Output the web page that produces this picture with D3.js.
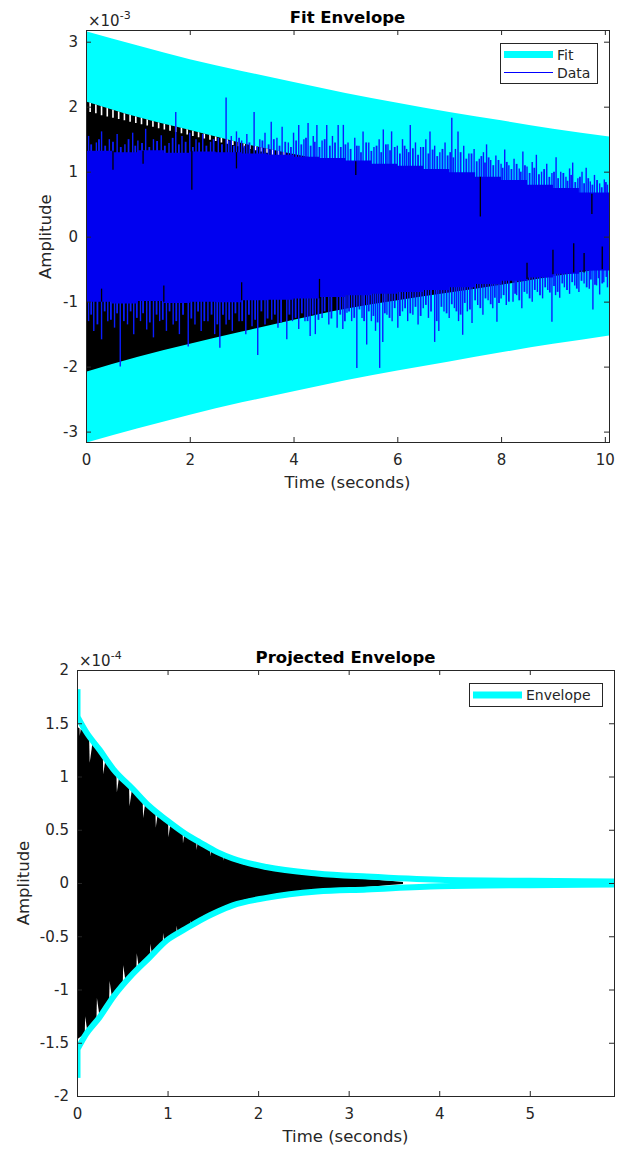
<!DOCTYPE html>
<html>
<head>
<meta charset="utf-8">
<script src="https://cdn.jsdelivr.net/npm/d3@7"></script>
<style>
  body { margin: 0; background: #fff; }
  svg { display: block; }
</style>
</head>
<body>
<svg id="chart" width="618" height="1149"></svg>
<script>
// ---------- Fit Envelope (amplitudes x 1e-3) ----------
const fitTime = [0, 1, 2, 3, 4, 5, 6, 7, 8, 9, 10.08]
const fitUpper = [3.16, 2.94, 2.73, 2.55, 2.38, 2.21, 2.06, 1.92, 1.79, 1.66, 1.54]
const fitLower = [-3.17, -2.95, -2.74, -2.55, -2.38, -2.21, -2.06, -1.92, -1.78, -1.65, -1.52]

// black signal envelope
const sigUpper = [2.08, 1.84, 1.64, 1.44, 1.27, 1.12, 0.99, 0.87, 0.75, 0.62, 0.49]
const sigLower = [-2.08, -1.85, -1.65, -1.46, -1.28, -1.11, -0.98, -0.86, -0.74, -0.61, -0.48]

// dense core of the blue data trace
const dataTime = [0, 0.5, 1, 1.5, 2, 2.5, 3, 3.5, 4, 4.5, 5, 5.5, 6, 6.5, 7, 7.5, 8, 8.5, 9, 9.5, 10.08]
const dataUpper = [1.32, 1.3, 1.33, 1.29, 1.31, 1.3, 1.28, 1.26, 1.23, 1.21, 1.17, 1.12, 1.09, 1.04, 0.99, 0.92, 0.87, 0.8, 0.75, 0.68, 0.62]
const dataLower = [-1.0, -1.03, -0.99, -1.02, -1.0, -1.01, -0.98, -0.97, -0.95, -0.93, -0.9, -0.88, -0.85, -0.82, -0.78, -0.73, -0.68, -0.63, -0.57, -0.52, -0.46]

// [time, peak] of the tall blue data spikes
const dataPeaksUp = [
  [0.05, 1.55], [0.2, 1.45], [0.3, 1.62], [0.45, 1.5], [0.6, 1.58], [0.75, 1.42], [0.9, 1.6], [1.0, 1.48],
  [1.15, 1.66], [1.3, 1.5], [1.45, 1.56], [1.6, 1.44], [1.73, 1.92], [1.85, 1.55], [2.0, 1.6], [2.12, 1.5],
  [2.25, 1.58], [2.4, 1.46], [2.55, 1.52], [2.7, 2.14], [2.8, 1.55], [2.9, 1.62], [3.0, 1.48], [3.1, 1.58],
  [3.24, 1.92], [3.35, 1.5], [3.45, 1.6], [3.57, 1.77], [3.68, 1.52], [3.78, 1.69], [3.9, 1.45], [4.0, 1.6],
  [4.1, 1.72], [4.2, 1.5], [4.28, 1.75], [4.38, 1.55], [4.45, 1.72], [4.55, 1.48], [4.64, 1.72], [4.75, 1.55],
  [4.86, 1.72], [4.96, 1.72], [5.05, 1.45], [5.18, 1.52], [5.26, 1.4], [5.34, 1.62], [5.45, 1.45], [5.55, 1.38],
  [5.65, 1.5], [5.73, 1.65], [5.82, 1.42], [5.89, 1.62], [6.0, 1.4], [6.1, 1.5], [6.18, 1.35], [6.25, 1.72],
  [6.35, 1.45], [6.45, 1.38], [6.55, 1.5], [6.63, 1.62], [6.72, 1.4], [6.82, 1.3], [6.92, 1.45], [7.05, 1.83],
  [7.12, 1.35], [7.17, 1.62], [7.28, 1.4], [7.38, 1.28], [7.48, 1.35], [7.58, 1.2], [7.66, 1.3], [7.72, 1.42],
  [7.8, 1.18], [7.9, 1.25], [8.0, 1.12], [8.07, 1.34], [8.15, 1.1], [8.25, 1.2], [8.35, 1.05], [8.42, 1.31],
  [8.5, 1.08], [8.6, 1.15], [8.68, 1.26], [8.78, 1.0], [8.88, 1.12], [8.98, 0.98], [9.06, 1.22], [9.15, 1.0],
  [9.25, 0.92], [9.32, 1.05], [9.38, 1.14], [9.48, 0.9], [9.56, 1.0], [9.64, 1.06], [9.72, 0.85], [9.8, 0.95],
  [9.9, 0.82], [9.99, 0.88], [10.05, 0.8]
]
const dataPeaksDown = [
  [0.05, -1.3], [0.15, -1.45], [0.3, -1.58], [0.42, -1.3], [0.55, -1.4], [0.66, -2.0], [0.8, -1.35], [0.92, -1.5],
  [1.05, -1.3], [1.17, -1.43], [1.3, -1.55], [1.42, -1.3], [1.55, -1.45], [1.68, -1.35], [1.8, -1.5], [1.97, -1.69],
  [2.1, -1.35], [2.22, -1.45], [2.35, -1.3], [2.48, -1.5], [2.58, -1.71], [2.7, -1.35], [2.82, -1.45], [2.95, -1.3],
  [3.08, -1.5], [3.2, -1.38], [3.31, -1.82], [3.45, -1.35], [3.58, -1.28], [3.7, -1.4], [3.87, -1.58], [3.98, -1.3],
  [4.1, -1.42], [4.22, -1.3], [4.32, -1.53], [4.42, -1.5], [4.55, -1.25], [4.68, -1.35], [4.84, -1.4], [4.95, -1.42],
  [5.03, -1.17], [5.12, -1.3], [5.22, -2.02], [5.32, -1.25], [5.41, -1.66], [5.5, -1.3], [5.58, -1.45], [5.66, -2.02],
  [5.72, -1.62], [5.8, -1.2], [5.9, -1.3], [6.01, -1.4], [6.1, -1.15], [6.2, -1.3], [6.3, -1.2], [6.4, -1.35],
  [6.5, -1.1], [6.6, -1.25], [6.72, -1.62], [6.8, -1.45], [6.9, -1.15], [7.0, -1.25], [7.1, -1.1], [7.18, -1.3],
  [7.26, -1.51], [7.35, -1.15], [7.44, -1.33], [7.55, -1.05], [7.65, -1.2], [7.75, -0.98], [7.84, -1.1], [7.92, -1.31],
  [8.0, -0.95], [8.1, -1.05], [8.23, -1.0], [8.3, -0.9], [8.4, -1.1], [8.5, -0.88], [8.6, -1.0], [8.7, -0.85],
  [8.8, -0.95], [8.9, -0.82], [8.98, -1.31], [9.05, -0.9], [9.13, -0.94], [9.22, -0.78], [9.32, -0.88], [9.42, -0.75],
  [9.5, -0.85], [9.6, -0.72], [9.7, -0.8], [9.77, -1.12], [9.84, -0.75], [9.9, -0.89], [9.98, -0.7], [10.05, -0.78]
]
// [time, peak] of the short, dense spikes fringing the core
const dataFringeUp = [
  [0.1, 1.42], [0.25, 1.5], [0.37, 1.4], [0.52, 1.46], [0.67, 1.38], [0.82, 1.5], [0.95, 1.4], [1.08, 1.44],
  [1.22, 1.38], [1.37, 1.47], [1.52, 1.4], [1.67, 1.52], [1.79, 1.42], [1.92, 1.46], [2.06, 1.38], [2.18, 1.45],
  [2.32, 1.4], [2.46, 1.5], [2.62, 1.42], [2.75, 1.48], [2.85, 1.4], [2.95, 1.52], [3.05, 1.4], [3.15, 1.45],
  [3.3, 1.38], [3.4, 1.48], [3.52, 1.42], [3.62, 1.5], [3.73, 1.4], [3.84, 1.46], [3.95, 1.38], [4.05, 1.48],
  [4.15, 1.42], [4.24, 1.52], [4.33, 1.4], [4.41, 1.46], [4.5, 1.38], [4.6, 1.5], [4.7, 1.4], [4.8, 1.45],
  [4.91, 1.38], [5.0, 1.42], [5.1, 1.35], [5.22, 1.4], [5.3, 1.3], [5.4, 1.45], [5.5, 1.32], [5.6, 1.4],
  [5.69, 1.3], [5.78, 1.42], [5.86, 1.33], [5.95, 1.38], [6.05, 1.28], [6.14, 1.4], [6.22, 1.3], [6.3, 1.36],
  [6.4, 1.26], [6.5, 1.38], [6.6, 1.28], [6.68, 1.34], [6.77, 1.24], [6.87, 1.35], [6.97, 1.25], [7.02, 1.3],
  [7.08, 1.22], [7.22, 1.3], [7.33, 1.2], [7.43, 1.28], [7.53, 1.16], [7.62, 1.24], [7.69, 1.14], [7.76, 1.22],
  [7.85, 1.1], [7.95, 1.18], [8.03, 1.06], [8.11, 1.15], [8.2, 1.04], [8.3, 1.12], [8.38, 1.0], [8.46, 1.1],
  [8.55, 0.98], [8.64, 1.06], [8.73, 0.96], [8.83, 1.04], [8.93, 0.92], [9.02, 1.0], [9.1, 0.9], [9.2, 0.98],
  [9.28, 0.86], [9.35, 0.95], [9.43, 0.84], [9.52, 0.92], [9.6, 0.82], [9.68, 0.9], [9.76, 0.8], [9.85, 0.87],
  [9.94, 0.76], [10.02, 0.84]
]
const dataFringeDown = [
  [0.1, -1.2], [0.22, -1.35], [0.36, -1.15], [0.48, -1.28], [0.6, -1.18], [0.73, -1.3], [0.86, -1.15], [0.98, -1.25],
  [1.1, -1.18], [1.23, -1.32], [1.36, -1.2], [1.48, -1.28], [1.61, -1.15], [1.74, -1.3], [1.87, -1.2], [2.03, -1.26],
  [2.16, -1.15], [2.28, -1.3], [2.42, -1.2], [2.53, -1.35], [2.64, -1.2], [2.76, -1.28], [2.88, -1.18], [3.01, -1.3],
  [3.14, -1.2], [3.26, -1.28], [3.38, -1.15], [3.5, -1.26], [3.64, -1.2], [3.76, -1.32], [3.92, -1.2], [4.04, -1.25],
  [4.16, -1.18], [4.27, -1.3], [4.37, -1.2], [4.48, -1.28], [4.6, -1.15], [4.73, -1.26], [4.9, -1.2], [4.99, -1.3],
  [5.07, -1.15], [5.17, -1.25], [5.27, -1.12], [5.36, -1.3], [5.45, -1.15], [5.54, -1.22], [5.62, -1.32], [5.76, -1.18],
  [5.85, -1.25], [5.95, -1.1], [6.05, -1.22], [6.15, -1.1], [6.25, -1.18], [6.35, -1.08], [6.45, -1.22], [6.55, -1.05],
  [6.65, -1.15], [6.76, -1.3], [6.85, -1.08], [6.95, -1.18], [7.05, -1.04], [7.14, -1.15], [7.22, -1.2], [7.3, -1.02],
  [7.4, -1.12], [7.5, -0.98], [7.6, -1.1], [7.7, -0.95], [7.8, -1.04], [7.88, -0.94], [7.96, -1.02], [8.05, -0.9],
  [8.15, -1.0], [8.27, -0.88], [8.35, -0.98], [8.45, -0.85], [8.55, -0.95], [8.65, -0.82], [8.75, -0.9], [8.85, -0.78],
  [8.94, -0.86], [9.02, -0.76], [9.09, -0.85], [9.18, -0.72], [9.27, -0.82], [9.37, -0.7], [9.46, -0.8], [9.55, -0.68],
  [9.65, -0.78], [9.73, -0.66], [9.81, -0.74], [9.88, -0.64], [9.95, -0.72], [10.03, -0.62]
]
// [time, from, to] black strokes that show through the blue core
const sigStrokes = [
  [0.52, 1.32, 1.03], [1.1, 1.32, 1.12], [2.04, 1.32, 0.72], [2.9, 1.3, 1.05], [5.2, 1.16, 0.95], [7.6, 0.92, 0.31],
  [9.75, 0.66, 0.35], [0.3, -1.0, -0.8], [1.5, -1.0, -0.75], [3.0, -0.98, -0.7], [4.5, -0.95, -0.65],
  [8.5, -0.65, -0.4], [9.0, -0.58, -0.2], [9.4, -0.55, -0.1], [9.6, -0.55, -0.25], [9.95, -0.5, -0.15]
]
// [time, depth] white gaps along the top edge of the black signal
const sigGaps = [
  [0.08, 1.92], [0.19, 1.9], [0.3, 1.87], [0.41, 1.85], [0.52, 1.83], [0.63, 1.81], [0.74, 1.79], [0.85, 1.77],
  [0.96, 1.75], [1.07, 1.73], [1.18, 1.71], [1.29, 1.69], [1.4, 1.67], [1.51, 1.65], [1.62, 1.63], [1.73, 1.61],
  [1.84, 1.59], [1.95, 1.57], [2.06, 1.55], [2.17, 1.53], [2.28, 1.51], [2.39, 1.49], [2.5, 1.47], [2.61, 1.45],
  [2.72, 1.43], [2.83, 1.41], [2.94, 1.39], [3.05, 1.37], [3.16, 1.35], [3.27, 1.33], [3.38, 1.31], [3.49, 1.29],
  [3.6, 1.26], [3.71, 1.24], [3.82, 1.22]
]
const fitXTicks = [0, 2, 4, 6, 8, 10]
const fitYTicks = [-3, -2, -1, 0, 1, 2, 3]

// ---------- Projected Envelope (amplitudes x 1e-4) ----------
const projTime = [0, 0.1, 0.25, 0.4, 0.62, 0.8, 0.99, 1.2, 1.36, 1.55, 1.72, 2.09, 2.65, 3.2, 4, 5, 5.93]
const projUpper = [1.57, 1.42, 1.25, 1.07, 0.88, 0.72, 0.59, 0.46, 0.38, 0.29, 0.23, 0.15, 0.09, 0.06, 0.03, 0.02, 0.015]
const projLower = [-1.57, -1.42, -1.26, -1.07, -0.85, -0.7, -0.54, -0.43, -0.35, -0.27, -0.21, -0.14, -0.08, -0.06, -0.03, -0.02, -0.015]
const projStartUpper = [1.82, 1.57]
const projStartLower = [-1.83, -1.57]

const decayTime = [0, 0.1, 0.25, 0.4, 0.62, 0.8, 0.99, 1.2, 1.36, 1.55, 1.72, 2.09, 2.65, 3.0, 3.3, 3.6]
const decayUpper = [1.47, 1.4, 1.23, 1.05, 0.86, 0.7, 0.57, 0.44, 0.36, 0.27, 0.21, 0.13, 0.075, 0.05, 0.03, 0.01]
const decayLower = [-1.47, -1.4, -1.24, -1.05, -0.83, -0.68, -0.52, -0.41, -0.33, -0.25, -0.19, -0.12, -0.07, -0.05, -0.03, -0.01]
const decayGapsUp = [
  [0.03, 1.38], [0.14, 1.13], [0.29, 1.02], [0.44, 0.85], [0.58, 0.72], [0.73, 0.61],
  [0.87, 0.52], [1.01, 0.43], [1.17, 0.37], [1.32, 0.31], [1.47, 0.25], [1.62, 0.21]
]
const decayGapsDown = [
  [0.09, -1.25], [0.22, -1.08], [0.36, -0.92], [0.51, -0.77], [0.66, -0.66], [0.81, -0.57],
  [0.95, -0.47], [1.1, -0.4], [1.25, -0.35], [1.4, -0.3], [1.55, -0.24]
]
const projXTicks = [0, 1, 2, 3, 4, 5]
const projYTicks = [-2, -1.5, -1, -0.5, 0, 0.5, 1, 1.5, 2]

const CYAN = '#00ffff', BLUE = '#0000ff', AXIS = '#262626'
const FONT = 'DejaVu Sans, sans-serif'
const svg = d3.select('#chart')
const defs = svg.append('defs')

const rows = (times, hi, lo) => times.map((t, i) => ({ t, hi: hi[i], lo: lo[i] }))

// axes box with inward ticks on all four sides (MATLAB look)
const drawFrame = (x, y, xTicks, yTicks) => {
  const [xl, xr] = x.range()
  const [yb, yt] = y.range()
  const fmt = (d) => String(d)
  const style = (g) => {
    g.attr('color', AXIS).attr('font-family', FONT).attr('font-size', 15)
    g.select('.domain').remove()
  }
  svg.append('g').attr('transform', `translate(0,${yb})`)
    .call(d3.axisBottom(x).tickValues(xTicks).tickFormat(fmt).tickSizeInner(-5).tickSizeOuter(0).tickPadding(12))
    .call(style)
  svg.append('g').attr('transform', `translate(0,${yt})`)
    .call(d3.axisTop(x).tickValues(xTicks).tickFormat('').tickSizeInner(-5).tickSizeOuter(0))
    .call(style)
  svg.append('g').attr('transform', `translate(${xl},0)`)
    .call(d3.axisLeft(y).tickValues(yTicks).tickFormat(fmt).tickSizeInner(-5).tickSizeOuter(0).tickPadding(8))
    .call(style)
  svg.append('g').attr('transform', `translate(${xr},0)`)
    .call(d3.axisRight(y).tickValues(yTicks).tickFormat('').tickSizeInner(-5).tickSizeOuter(0))
    .call(style)
  svg.append('rect')
    .attr('x', xl + 0.5).attr('y', yt + 0.5)
    .attr('width', xr - xl).attr('height', yb - yt)
    .attr('fill', 'none').attr('stroke', AXIS).attr('stroke-width', 1)
}

const drawTexts = (x, y, title, exp, yLabelX) => {
  const [xl, xr] = x.range()
  const [yb, yt] = y.range()
  const cx = (xl + xr) / 2
  svg.append('text').attr('x', cx).attr('y', yt - 7)
    .attr('text-anchor', 'middle').attr('font-family', FONT).attr('font-weight', 'bold')
    .attr('font-size', 16.5).attr('fill', '#000').text(title)
  const e = svg.append('text').attr('x', xl + 2).attr('y', yt - 4)
    .attr('font-family', FONT).attr('font-size', 15).attr('fill', AXIS)
  e.append('tspan').text('×10')
  e.append('tspan').attr('dy', -7).attr('font-size', 11).text(exp)
  svg.append('text').attr('x', cx).attr('y', yb + 46)
    .attr('text-anchor', 'middle').attr('font-family', FONT).attr('font-size', 16.5)
    .attr('fill', AXIS).text('Time (seconds)')
  svg.append('text')
    .attr('transform', `translate(${yLabelX},${y(0)}) rotate(-90)`)
    .attr('text-anchor', 'middle').attr('font-family', FONT).attr('font-size', 16.5)
    .attr('fill', AXIS).text('Amplitude')
}

// ================= Fit Envelope =================
const x1 = d3.scaleLinear().domain([0, 10.08]).range([86, 609])
const y1 = d3.scaleLinear().domain([-3.16, 3.18]).range([442, 30])

defs.append('clipPath').attr('id', 'plot1').append('rect')
  .attr('x', 86).attr('y', 30).attr('width', 523).attr('height', 412)

const area1 = d3.area().curve(d3.curveMonotoneX)
  .x((d) => x1(d.t)).y0((d) => y1(d.lo)).y1((d) => y1(d.hi))
const coreArea = d3.area().curve(d3.curveStepAfter)
  .x((d) => x1(d.t)).y0((d) => y1(d.lo)).y1((d) => y1(d.hi))

const fitRows = rows(fitTime, fitUpper, fitLower)
const sigRows = rows(fitTime, sigUpper, sigLower)
const dataRows = rows(dataTime, dataUpper, dataLower)

defs.append('clipPath').attr('id', 'sig1').append('path').attr('d', area1(sigRows))

const p1 = svg.append('g').attr('clip-path', 'url(#plot1)')
p1.append('path').attr('d', area1(fitRows)).attr('fill', CYAN)
p1.append('path').attr('d', area1(sigRows)).attr('fill', '#000')

p1.append('g').attr('clip-path', 'url(#sig1)')
  .selectAll('line').data(sigGaps).join('line')
  .attr('x1', (d) => x1(d[0])).attr('x2', (d) => x1(d[0]))
  .attr('y1', (d) => y1(d[1])).attr('y2', y1(3))
  .attr('stroke', '#fff').attr('stroke-width', 1.6)

// spikes first, then the solid core covers their roots
p1.append('g').selectAll('line').data(dataFringeUp.concat(dataFringeDown)).join('line')
  .attr('x1', (d) => x1(d[0])).attr('x2', (d) => x1(d[0]))
  .attr('y1', y1(0)).attr('y2', (d) => y1(d[1]))
  .attr('stroke', '#0a1cff').attr('stroke-width', 1.8)
p1.append('g').selectAll('line').data(dataPeaksUp.concat(dataPeaksDown)).join('line')
  .attr('x1', (d) => x1(d[0])).attr('x2', (d) => x1(d[0]))
  .attr('y1', y1(0)).attr('y2', (d) => y1(d[1]))
  .attr('stroke', '#0a1cff').attr('stroke-width', 1.4)

p1.append('path').attr('d', coreArea(dataRows)).attr('fill', '#0000f0')

p1.append('g').selectAll('line').data(sigStrokes).join('line')
  .attr('x1', (d) => x1(d[0])).attr('x2', (d) => x1(d[0]))
  .attr('y1', (d) => y1(d[1])).attr('y2', (d) => y1(d[2]))
  .attr('stroke', '#000').attr('stroke-width', 1.3)

drawFrame(x1, y1, fitXTicks, fitYTicks)
drawTexts(x1, y1, 'Fit Envelope', '-3', 51)

// legend
const lg1 = svg.append('g')
lg1.append('rect').attr('x', 500.5).attr('y', 43.5).attr('width', 97).attr('height', 40)
  .attr('fill', '#fff').attr('stroke', AXIS)
lg1.append('line').attr('x1', 504).attr('x2', 553).attr('y1', 54.5).attr('y2', 54.5)
  .attr('stroke', CYAN).attr('stroke-width', 7)
lg1.append('line').attr('x1', 504).attr('x2', 553).attr('y1', 72.5).attr('y2', 72.5)
  .attr('stroke', BLUE).attr('stroke-width', 1)
lg1.selectAll('text').data(['Fit', 'Data']).join('text')
  .attr('x', 557).attr('y', (d, i) => 59.5 + i * 18)
  .attr('font-family', FONT).attr('font-size', 14).attr('fill', AXIS).text((d) => d)

// ================= Projected Envelope =================
const x2 = d3.scaleLinear().domain([0, 5.93]).range([77, 614])
const y2 = d3.scaleLinear().domain([-2, 2]).range([1096, 670])

defs.append('clipPath').attr('id', 'plot2').append('rect')
  .attr('x', 77).attr('y', 670).attr('width', 537).attr('height', 426)

const area2 = d3.area().curve(d3.curveMonotoneX)
  .x((d) => x2(d.t)).y0((d) => y2(d.lo)).y1((d) => y2(d.hi))
const decayRows = rows(decayTime, decayUpper, decayLower)

defs.append('clipPath').attr('id', 'sig2').append('path').attr('d', area2(decayRows))

const p2 = svg.append('g').attr('clip-path', 'url(#plot2)')
p2.append('path').attr('d', area2(decayRows)).attr('fill', '#000')

// saw-tooth notches: vertical edge at the tip time, sloping back to the envelope
const notch = (d, s) => {
  const pts = [[d[0], d[1]], [d[0] + 0.05, d[1] + 0.3 * s], [d[0] - 0.008, d[1] + 0.3 * s]]
  return 'M' + pts.map((p) => [x2(p[0]), y2(p[1])].join(',')).join('L') + 'Z'
}
const gapG = p2.append('g').attr('clip-path', 'url(#sig2)')
gapG.selectAll('.up').data(decayGapsUp).join('path').attr('class', 'up')
  .attr('d', (d) => notch(d, 1)).attr('fill', '#fff')
gapG.selectAll('.dn').data(decayGapsDown).join('path').attr('class', 'dn')
  .attr('d', (d) => notch(d, -1)).attr('fill', '#fff')

const envLine = d3.line().curve(d3.curveMonotoneX).x((d) => x2(d[0])).y((d) => y2(d[1]))
const startLine = d3.line().x(() => x2(0)).y((d) => y2(d))
;[projUpper, projLower].forEach((vals) => {
  p2.append('path').attr('d', envLine(projTime.map((t, i) => [t, vals[i]])))
    .attr('fill', 'none').attr('stroke', CYAN).attr('stroke-width', 6).attr('stroke-linejoin', 'round')
})
;[projStartUpper, projStartLower].forEach((vals) => {
  p2.append('path').attr('d', startLine(vals))
    .attr('fill', 'none').attr('stroke', CYAN).attr('stroke-width', 7)
})

drawFrame(x2, y2, projXTicks, projYTicks)
drawTexts(x2, y2, 'Projected Envelope', '-4', 29)

const lg2 = svg.append('g')
lg2.append('rect').attr('x', 469.5).attr('y', 683.5).attr('width', 133).attr('height', 23)
  .attr('fill', '#fff').attr('stroke', AXIS)
lg2.append('line').attr('x1', 473).attr('x2', 522).attr('y1', 695).attr('y2', 695)
  .attr('stroke', CYAN).attr('stroke-width', 7)
lg2.append('text').attr('x', 526).attr('y', 700)
  .attr('font-family', FONT).attr('font-size', 14).attr('fill', AXIS).text('Envelope')
</script>
</body>
</html>
